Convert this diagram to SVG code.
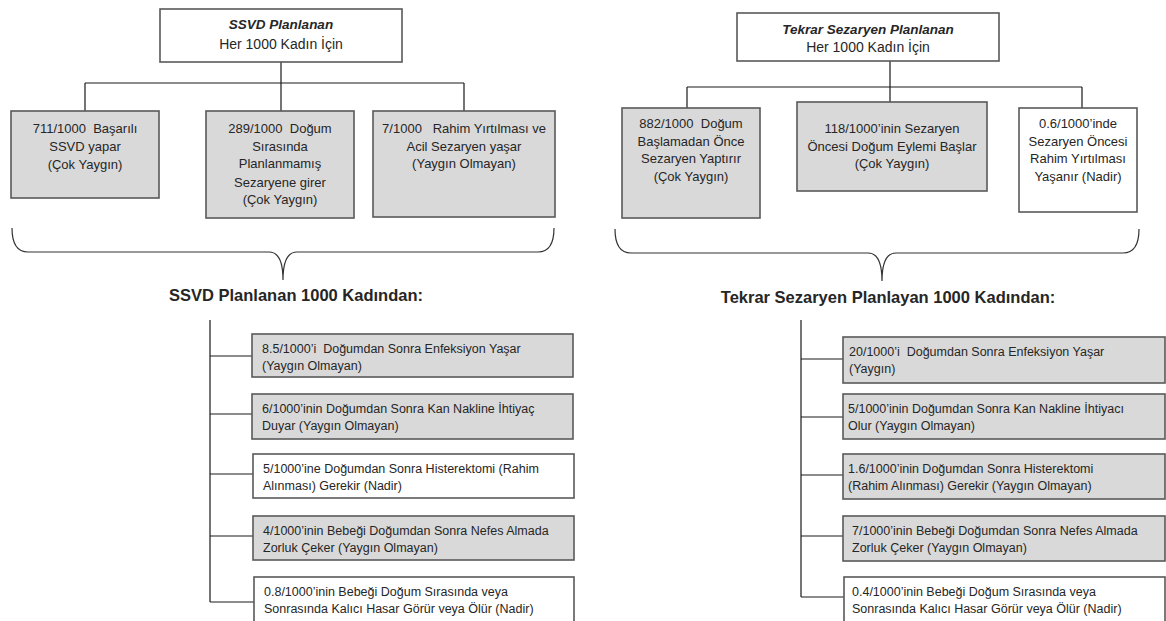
<svg xmlns="http://www.w3.org/2000/svg" width="1166" height="621" viewBox="0 0 1166 621">
<style>
.bg{fill:#ffffff}
.box{stroke:#595959;stroke-width:1.6}
.g{fill:#d9d9d9}
.w{fill:#ffffff}
.ln{fill:none;stroke:#1a1a1a;stroke-width:1.2}
.br{fill:none;stroke:#333333;stroke-width:1.2}
text{font-family:'Liberation Sans',Arial,sans-serif;fill:#262626}
.t{font-size:13px;text-anchor:middle}
.h{font-size:14px;text-anchor:middle}
.hb{font-size:13.5px;font-weight:bold;font-style:italic;text-anchor:middle}
.s{font-size:12.5px}
.ti{font-size:16.5px;font-weight:bold;text-anchor:middle}
</style>
<rect class="bg" x="0" y="0" width="1166" height="621"/>

<g id="connectors">
  <path class="ln" d="M281 62 V83 M85 83 H464 M85 83 V111 M281 83 V111 M464 83 V111"/>
  <path class="ln" d="M890 61 V102 M687 87 H1082 M687 87 V108 M1082 87 V108"/>
  <path class="br" d="M12 228 Q12 252 28 252 L269 252 Q283 252 283 280 Q283 252 297 252 L538 252 Q554 252 554 228"/>
  <path class="br" d="M615 229 Q615 253 631 253 L868 253 Q882 253 882 281 Q882 253 896 253 L1123 253 Q1139 253 1139 229"/>
  <path class="ln" d="M210 320 V602 M210 356 H252 M210 414 H252 M210 474 H253 M210 536 H253 M210 602 H254"/>
  <path class="ln" d="M801 320 V597 M801 359 H843 M801 417 H843 M801 475 H843 M801 536 H843 M801 597 H844"/>
</g>

<g id="top-left">
  <rect class="box w" x="160" y="9" width="242" height="53"/>
  <text class="hb" x="281" y="29">SSVD Planlanan</text>
  <text class="h" x="281" y="49">Her 1000 Kadın İçin</text>
</g>
<g id="top-right">
  <rect class="box w" x="737" y="13" width="262" height="48"/>
  <text class="hb" x="868" y="34">Tekrar Sezaryen Planlanan</text>
  <text class="h" x="868" y="52">Her 1000 Kadın İçin</text>
</g>

<g id="l1">
  <rect class="box g" x="11" y="111" width="148" height="87"/>
  <text class="t" x="85" y="133" xml:space="preserve">711/1000  Başarılı</text>
  <text class="t" x="85" y="151">SSVD yapar</text>
  <text class="t" x="85" y="169">(Çok Yaygın)</text>
</g>
<g id="l2">
  <rect class="box g" x="206" y="111" width="148" height="107"/>
  <text class="t" x="280" y="133" xml:space="preserve">289/1000  Doğum</text>
  <text class="t" x="280" y="151">Sırasında</text>
  <text class="t" x="280" y="168">Planlanmamış</text>
  <text class="t" x="280" y="187">Sezaryene girer</text>
  <text class="t" x="280" y="204">(Çok Yaygın)</text>
</g>
<g id="l3">
  <rect class="box g" x="373" y="111" width="182" height="106"/>
  <text class="t" x="464" y="133" xml:space="preserve">7/1000   Rahim Yırtılması ve</text>
  <text class="t" x="464" y="151">Acil Sezaryen yaşar</text>
  <text class="t" x="464" y="168">(Yaygın Olmayan)</text>
</g>

<g id="r1">
  <rect class="box g" x="622" y="108" width="138" height="110"/>
  <text class="t" x="691" y="128" xml:space="preserve">882/1000  Doğum</text>
  <text class="t" x="691" y="146">Başlamadan Önce</text>
  <text class="t" x="691" y="163">Sezaryen Yaptırır</text>
  <text class="t" x="691" y="181">(Çok Yaygın)</text>
</g>
<g id="r2">
  <rect class="box g" x="797" y="102" width="190" height="89"/>
  <text class="t" x="892" y="133">118/1000’inin Sezaryen</text>
  <text class="t" x="892" y="151">Öncesi Doğum Eylemi Başlar</text>
  <text class="t" x="892" y="168">(Çok Yaygın)</text>
</g>
<g id="r3">
  <rect class="box w" x="1019" y="108" width="118" height="104"/>
  <text class="t" x="1078" y="128">0.6/1000’inde</text>
  <text class="t" x="1078" y="146">Sezaryen Öncesi</text>
  <text class="t" x="1078" y="163">Rahim Yırtılması</text>
  <text class="t" x="1078" y="181">Yaşanır (Nadir)</text>
</g>

<g id="title-left">
  <text class="ti" x="296" y="301">SSVD Planlanan 1000 Kadından:</text>
</g>
<g id="title-right">
  <text class="ti" x="888" y="303">Tekrar Sezaryen Planlayan 1000 Kadından:</text>
</g>

<g id="la">
  <rect class="box g" x="252" y="334" width="321" height="43"/>
  <text class="s" x="262" y="353" xml:space="preserve">8.5/1000’i  Doğumdan Sonra Enfeksiyon Yaşar</text>
  <text class="s" x="262" y="370">(Yaygın Olmayan)</text>
</g>
<g id="lb">
  <rect class="box g" x="252" y="394" width="321" height="45"/>
  <text class="s" x="262" y="413">6/1000’inin Doğumdan Sonra Kan Nakline İhtiyaç</text>
  <text class="s" x="262" y="430">Duyar (Yaygın Olmayan)</text>
</g>
<g id="lc">
  <rect class="box w" x="253" y="454" width="321" height="44"/>
  <text class="s" x="263" y="473">5/1000’ine Doğumdan Sonra Histerektomi (Rahim</text>
  <text class="s" x="263" y="490">Alınması) Gerekir (Nadir)</text>
</g>
<g id="ld">
  <rect class="box g" x="253" y="516" width="321" height="44"/>
  <text class="s" x="263" y="535">4/1000’inin Bebeği Doğumdan Sonra Nefes Almada</text>
  <text class="s" x="263" y="552">Zorluk Çeker (Yaygın Olmayan)</text>
</g>
<g id="le">
  <rect class="box w" x="254" y="577" width="320" height="46"/>
  <text class="s" x="264" y="596">0.8/1000’inin Bebeği Doğum Sırasında veya</text>
  <text class="s" x="264" y="613">Sonrasında Kalıcı Hasar Görür veya Ölür (Nadir)</text>
</g>

<g id="ra">
  <rect class="box g" x="843" y="337" width="322" height="46"/>
  <text class="s" x="849" y="356" xml:space="preserve">20/1000’i  Doğumdan Sonra Enfeksiyon Yaşar</text>
  <text class="s" x="849" y="373">(Yaygın)</text>
</g>
<g id="rb">
  <rect class="box g" x="843" y="394" width="322" height="45"/>
  <text class="s" x="848" y="413">5/1000’inin Doğumdan Sonra Kan Nakline İhtiyacı</text>
  <text class="s" x="848" y="430">Olur (Yaygın Olmayan)</text>
</g>
<g id="rc">
  <rect class="box g" x="843" y="454" width="322" height="45"/>
  <text class="s" x="848" y="473">1.6/1000’inin Doğumdan Sonra Histerektomi</text>
  <text class="s" x="848" y="490">(Rahim Alınması) Gerekir (Yaygın Olmayan)</text>
</g>
<g id="rd">
  <rect class="box g" x="843" y="516" width="322" height="45"/>
  <text class="s" x="852" y="535">7/1000’inin Bebeği Doğumdan Sonra Nefes Almada</text>
  <text class="s" x="852" y="552">Zorluk Çeker (Yaygın Olmayan)</text>
</g>
<g id="re">
  <rect class="box w" x="844" y="577" width="321" height="46"/>
  <text class="s" x="852" y="596">0.4/1000’inin Bebeği Doğum Sırasında veya</text>
  <text class="s" x="852" y="613">Sonrasında Kalıcı Hasar Görür veya Ölür (Nadir)</text>
</g>
</svg>
